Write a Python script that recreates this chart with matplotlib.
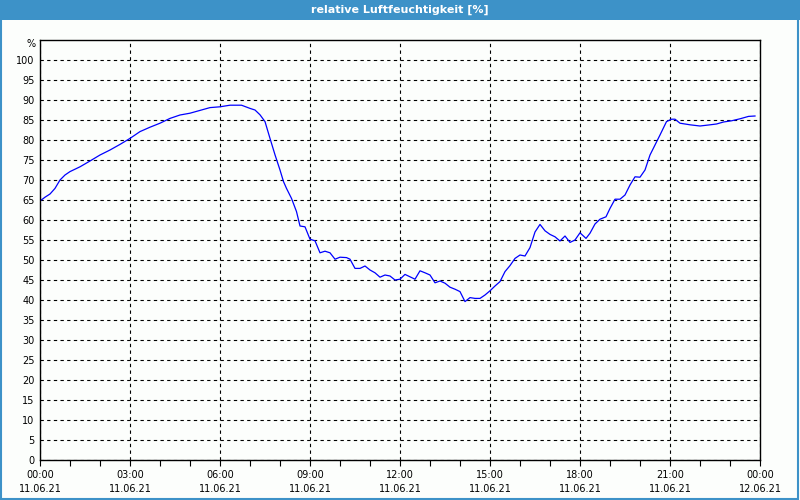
import numpy as np
import matplotlib
matplotlib.use("Agg")
from matplotlib import pyplot as plt
import matplotlib.dates as mdates
from matplotlib.patches import Rectangle

# minutes after 11.06.21 00:00 and relative humidity in %
minutes = [0, 10, 20, 30, 40, 50, 60, 80, 100, 120, 140, 160, 180, 200, 220,
           240, 260, 280, 300, 320, 340, 360, 380, 403, 420, 430, 440, 450,
           460, 470, 480, 487, 493, 503, 513, 520, 530, 540, 550, 560, 570,
           580, 590, 600, 613, 620, 630, 640, 650, 660, 670, 680, 690, 700,
           710, 720, 730, 740, 750, 760, 770, 780, 790, 800, 810, 820, 830,
           840, 850, 860, 870, 880, 890, 900, 910, 920, 930, 940, 950, 960,
           970, 980, 990, 1000, 1010, 1020, 1030, 1040, 1050, 1060, 1070,
           1080, 1092, 1100, 1110, 1120, 1132, 1140, 1150, 1160, 1170, 1180,
           1190, 1200, 1210, 1220, 1230, 1240, 1253, 1263, 1270, 1280, 1290,
           1300, 1320, 1337, 1353, 1367, 1383, 1400, 1417, 1430]
humidity = [64.75, 65.7, 66.5, 67.9, 70.0, 71.25, 72.1, 73.3, 74.75, 76.25,
            77.5, 78.9, 80.4, 82.1, 83.2, 84.2, 85.4, 86.25, 86.7, 87.4, 88.1,
            88.3, 88.7, 88.7, 87.9, 87.5, 86.3, 84.6, 80.4, 76.3, 72.5, 69.6,
            67.9, 65.4, 62.1, 58.5, 58.3, 55.2, 54.8, 51.8, 52.2, 51.8, 50.2,
            50.7, 50.6, 50.2, 47.9, 47.9, 48.5, 47.5, 46.8, 45.7, 46.25, 46.0,
            45.0, 45.2, 46.4, 45.8, 45.2, 47.3, 46.8, 46.25, 44.3, 44.75, 44.2,
            43.2, 42.7, 42.1, 39.6, 40.6, 40.4, 40.4, 41.25, 42.3, 43.5, 44.6,
            47.1, 48.6, 50.4, 51.25, 51.0, 53.1, 57.0, 58.9, 57.3, 56.4, 55.8,
            54.75, 56.0, 54.4, 55.0, 56.8, 55.4, 56.7, 59.0, 60.2, 60.8, 62.9,
            65.2, 65.2, 66.25, 68.75, 70.8, 70.7, 72.5, 76.25, 78.75, 81.25,
            84.6, 85.2, 85.2, 84.2, 84.0, 83.8, 83.5, 83.75, 84.0, 84.5, 84.8,
            85.3, 85.9, 86.0]

start = np.datetime64("2021-06-11T00:00")
times = start + np.array(minutes, dtype="timedelta64[m]")

blue_bar = "#3d92c8"

fig = plt.figure(figsize=(8, 5), dpi=100, facecolor="#fcfefc")
fig.patches.append(Rectangle((0, 0.96), 1, 0.04, transform=fig.transFigure,
                             facecolor=blue_bar, edgecolor="none", zorder=0))
fig.patches.append(Rectangle((0.001, 0.002), 0.997, 0.996, transform=fig.transFigure,
                             facecolor="none", edgecolor=blue_bar, linewidth=1.5, zorder=1))
fig.text(0.5, 0.98, "relative Luftfeuchtigkeit [%]", color="white",
         fontsize=8, fontweight="bold", ha="center", va="center")

ax = fig.add_axes([0.05, 0.08, 0.9, 0.84])
ax.set_facecolor("#fcfefc")
ax.plot(times, humidity, color="#0000ff", linewidth=0.9)

ax.set_xlim(start, start + np.timedelta64(24, "h"))
ax.set_ylim(0, 105)
ax.set_yticks(np.arange(0, 101, 5))
ax.xaxis.set_major_locator(mdates.HourLocator(byhour=range(0, 24, 3)))
ax.xaxis.set_minor_locator(mdates.HourLocator())
ax.xaxis.set_major_formatter(mdates.DateFormatter("%H:%M\n%d.%m.%y"))

ax.grid(True, which="major", color="black", linestyle=(0, (3, 3)), linewidth=0.8)
ax.tick_params(axis="x", which="both", direction="out", length=4, width=0.8,
               labelsize=7, pad=3)
ax.tick_params(axis="y", length=0, labelsize=7, pad=4)
for lab in ax.get_xticklabels():
    lab.set_linespacing(1.55)
for sp in ax.spines.values():
    sp.set_linewidth(1.0)

ax.text(-0.006, 104, "%", transform=ax.get_yaxis_transform(), ha="right",
        va="center", fontsize=7)

fig.savefig("out.png", dpi=100, facecolor=fig.get_facecolor())
